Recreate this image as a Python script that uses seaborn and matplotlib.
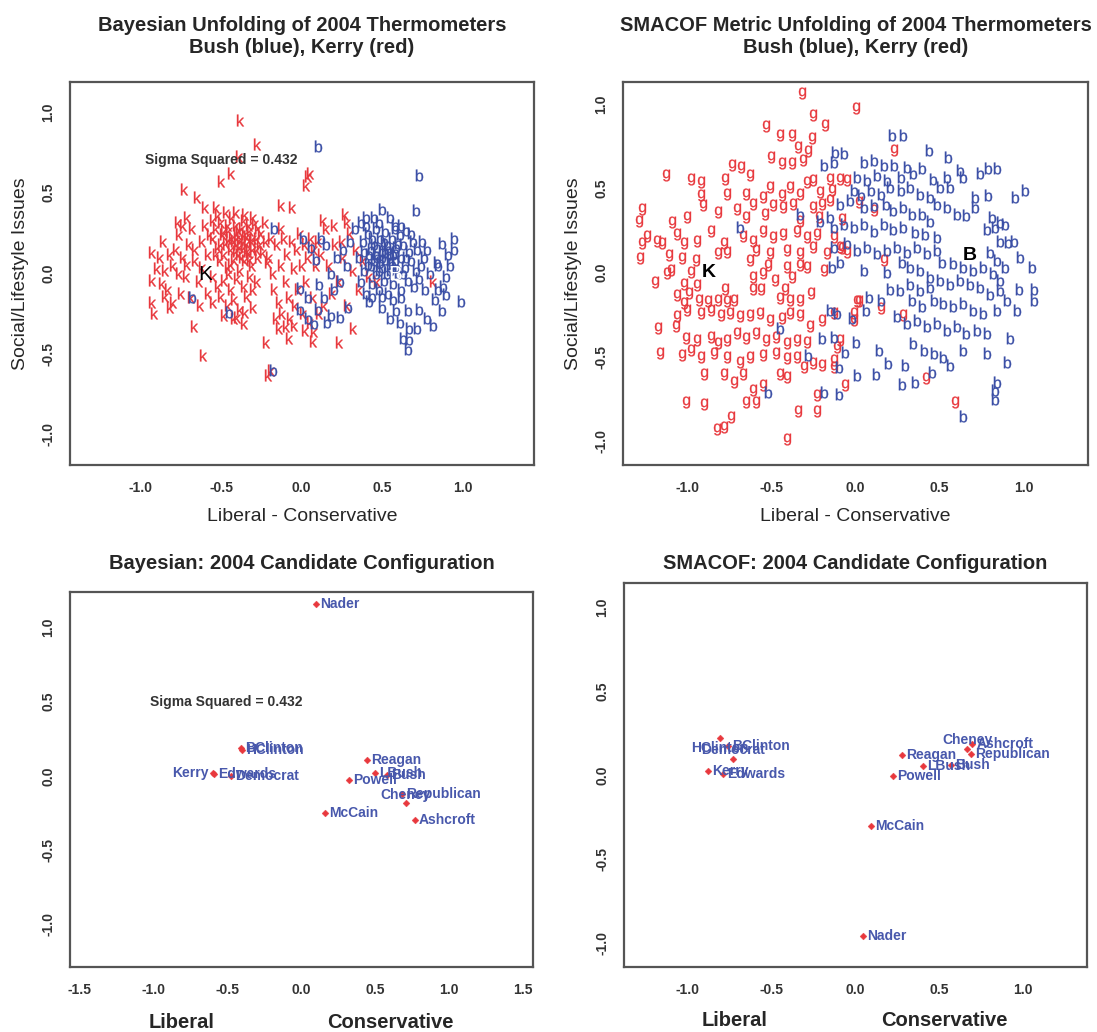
import numpy as np
import pandas as pd
import matplotlib
matplotlib.use("Agg")
import matplotlib.pyplot as plt
import matplotlib.transforms as mtransforms
import seaborn as sns

# ---------------- data ----------------
# Bayesian unfolding, respondent ideal points (Kerry voters "k", Bush voters "b")
kerry_bayes = [
    (-0.38, 0.95), (-0.28, 0.80), (-0.39, 0.73), (-0.44, 0.62), (-0.50, 0.57), (0.04, 0.60), (0.05, 0.62),
    (0.03, 0.55), (-0.73, 0.52), (-0.65, 0.47), (-0.60, 0.41), (-0.53, 0.41), (-0.06, 0.41), (-0.77, 0.32),
    (-0.71, 0.35), (-0.86, 0.20), (-0.93, 0.13), (-0.93, -0.04), (-0.93, -0.18), (-0.92, -0.25),
    (-0.82, -0.21), (-0.67, -0.33), (-0.61, -0.51), (-0.30, -0.21), (-0.22, -0.43), (-0.21, -0.63),
    (-0.19, -0.60), (-0.14, -0.34), (-0.08, -0.40), (-0.05, -0.32), (0.07, -0.42), (0.08, -0.36),
    (0.23, -0.43), (0.32, -0.34), (-0.36, -0.31), (-0.42, -0.28), (0.13, 0.33), (0.27, 0.37), (0.28, 0.32),
    (0.25, 0.20), (0.82, -0.05), (-0.13, 0.42),
    (-0.88, 0.10), (-0.85, 0.02), (-0.87, -0.06), (-0.83, -0.10), (-0.80, 0.05), (-0.78, 0.15),
    (-0.76, 0.24), (-0.74, 0.10), (-0.72, -0.02), (-0.75, -0.12), (-0.70, 0.18), (-0.68, 0.28),
    (-0.66, 0.08), (-0.64, -0.05), (-0.69, -0.15), (-0.62, 0.20), (-0.60, 0.30), (-0.58, 0.12),
    (-0.63, -0.20), (-0.58, -0.12), (-0.55, -0.18), (-0.80, -0.18), (-0.85, -0.14), (-0.90, 0.03),
    (-0.76, 0.00), (-0.71, 0.06), (-0.66, 0.15), (-0.62, 0.04), (-0.57, 0.24), (-0.55, 0.33),
    (-0.82, 0.12), (-0.74, 0.30),
    (-0.55, 0.22), (-0.53, 0.28), (-0.52, 0.16), (-0.51, 0.08), (-0.50, 0.32), (-0.49, 0.24), (-0.48, 0.12),
    (-0.47, 0.19), (-0.46, 0.04), (-0.45, 0.27), (-0.44, 0.15), (-0.43, 0.35), (-0.43, 0.22), (-0.42, 0.09),
    (-0.41, 0.30), (-0.40, 0.18), (-0.40, 0.25), (-0.39, 0.12), (-0.38, 0.21), (-0.38, 0.02), (-0.37, 0.28),
    (-0.36, 0.16), (-0.36, 0.33), (-0.35, 0.08), (-0.34, 0.23), (-0.34, 0.19), (-0.33, 0.13), (-0.32, 0.27),
    (-0.31, 0.20), (-0.31, 0.05), (-0.30, 0.15), (-0.29, 0.31), (-0.28, 0.22), (-0.27, 0.10), (-0.26, 0.18),
    (-0.25, 0.25), (-0.24, 0.13), (-0.23, 0.32), (-0.22, 0.20), (-0.21, 0.07), (-0.46, 0.30), (-0.44, 0.06),
    (-0.41, 0.14), (-0.39, 0.27), (-0.37, 0.10), (-0.35, 0.24), (-0.33, 0.30), (-0.32, 0.09), (-0.30, 0.22),
    (-0.28, 0.15), (-0.42, 0.20), (-0.38, 0.17), (-0.36, 0.20), (-0.34, 0.14), (-0.40, 0.22), (-0.45, 0.21),
    (-0.48, 0.26), (-0.50, 0.18), (-0.53, 0.12), (-0.27, 0.28), (-0.52, 0.36), (-0.47, 0.38), (-0.41, 0.38),
    (-0.35, 0.37), (-0.30, 0.35),
    (-0.55, -0.02), (-0.52, -0.08), (-0.50, -0.14), (-0.48, -0.04), (-0.46, -0.20), (-0.44, -0.10),
    (-0.42, -0.16), (-0.40, -0.03), (-0.38, -0.22), (-0.36, -0.08), (-0.34, -0.14), (-0.32, -0.02),
    (-0.30, -0.10), (-0.48, -0.26), (-0.40, -0.27), (-0.35, -0.24), (-0.45, 0.00), (-0.28, -0.05),
    (-0.20, 0.10), (-0.18, 0.00), (-0.17, -0.10), (-0.15, 0.18), (-0.14, -0.18), (-0.13, 0.05),
    (-0.12, -0.25), (-0.11, 0.22), (-0.10, -0.05), (-0.09, 0.12), (-0.08, -0.15), (-0.07, -0.28),
    (-0.06, 0.20), (-0.05, 0.03), (-0.04, -0.20), (-0.03, 0.15), (-0.02, -0.10), (-0.01, 0.25),
    (0.00, 0.05), (0.01, -0.25), (0.02, 0.18), (0.03, -0.05), (0.04, 0.10), (0.05, -0.30), (0.06, 0.22),
    (0.07, -0.15), (0.08, 0.15), (0.09, 0.05), (0.10, 0.20), (0.11, -0.25), (0.12, 0.12), (-0.16, -0.28),
    (-0.10, -0.33), (0.02, -0.35), (-0.19, 0.22), (-0.13, 0.28),
    (0.15, 0.28), (0.17, 0.05), (0.19, -0.12), (0.21, 0.18), (0.23, -0.05), (0.26, 0.10), (0.28, -0.20),
    (0.30, 0.25), (0.32, 0.02), (0.34, 0.15), (0.38, 0.08), (0.42, -0.02), (0.36, -0.10), (0.20, 0.30),
    (0.14, -0.20), (0.47, -0.05),
]

bush_bayes = [
    (0.10, 0.79), (0.73, 0.61), (0.50, 0.40), (0.71, 0.39), (-0.17, 0.28), (0.95, 0.22), (0.95, 0.15),
    (0.87, 0.19), (0.91, 0.12), (0.84, 0.07), (0.90, -0.02), (0.90, -0.13), (0.99, -0.17), (0.87, -0.23),
    (0.82, -0.32), (0.73, -0.22), (0.66, -0.23), (0.59, -0.23), (0.50, -0.21), (0.61, -0.30), (0.67, -0.34),
    (0.72, -0.34), (0.66, -0.47), (0.42, -0.17), (0.29, -0.21), (0.24, -0.27), (0.18, -0.26), (0.08, -0.31),
    (-0.01, -0.09), (0.11, -0.07), (-0.01, -0.22), (-0.45, -0.24), (-0.68, -0.15), (-0.18, -0.60),
    (0.01, 0.22), (0.15, 0.18), (0.09, 0.09),
    (0.85, 0.05), (0.80, 0.00), (0.88, -0.08), (0.77, -0.10), (0.83, -0.16), (0.75, 0.20), (0.78, 0.15),
    (0.68, 0.25), (0.62, 0.30), (0.58, 0.28), (0.45, 0.35), (0.40, 0.30), (0.37, 0.32), (0.33, 0.28),
    (0.30, 0.20), (0.26, 0.15), (0.22, 0.10), (0.18, 0.00), (0.14, -0.15), (0.20, -0.10), (0.24, -0.05),
    (0.28, 0.05), (0.12, 0.22), (0.06, 0.16), (0.04, -0.15), (0.10, -0.22), (0.16, -0.30), (0.04, -0.28),
    (0.55, -0.28), (0.63, -0.40), (0.67, -0.41), (0.78, -0.28), (0.85, -0.10), (0.92, 0.05),
    (0.36, 0.10), (0.37, -0.05), (0.38, 0.20), (0.39, 0.02), (0.40, -0.12), (0.41, 0.25), (0.42, 0.12),
    (0.43, 0.05), (0.44, -0.06), (0.45, 0.18), (0.46, 0.28), (0.46, 0.00), (0.47, 0.10), (0.48, -0.10),
    (0.49, 0.22), (0.50, 0.14), (0.50, 0.04), (0.51, -0.04), (0.52, 0.26), (0.52, 0.09), (0.53, 0.18),
    (0.54, -0.12), (0.55, 0.02), (0.55, 0.12), (0.56, 0.22), (0.57, -0.06), (0.58, 0.08), (0.58, 0.30),
    (0.59, 0.16), (0.60, 0.00), (0.61, 0.24), (0.62, 0.10), (0.62, -0.10), (0.63, 0.18), (0.64, 0.04),
    (0.65, 0.27), (0.66, -0.04), (0.67, 0.14), (0.68, 0.08), (0.69, 0.20), (0.70, -0.08), (0.71, 0.02),
    (0.72, 0.15), (0.44, 0.22), (0.47, 0.16), (0.49, 0.07), (0.51, 0.20), (0.53, 0.00), (0.54, 0.15),
    (0.56, 0.06), (0.57, 0.12), (0.59, 0.04), (0.60, 0.19), (0.48, 0.02), (0.46, 0.12), (0.52, 0.13),
    (0.55, 0.08), (0.50, 0.10), (0.58, 0.13), (0.45, 0.08), (0.43, 0.15), (0.41, 0.06), (0.39, 0.14),
    (0.63, 0.00), (0.65, 0.10), (0.40, 0.35), (0.48, 0.32), (0.55, 0.35), (0.62, -0.15), (0.57, -0.16),
    (0.50, -0.14), (0.44, -0.14), (0.74, 0.05), (0.76, 0.10), (0.73, -0.03),
]

# SMACOF metric unfolding, respondent points (Kerry voters "g", Bush voters "b")
kerry_smacof = [
    (-0.32, 1.07), (0.00, 0.98), (-0.25, 0.94), (-0.18, 0.88), (-0.53, 0.875), (-0.45, 0.82), (-0.38, 0.82),
    (-0.26, 0.80), (-0.345, 0.75), (-0.28, 0.725), (0.23, 0.73), (-0.50, 0.685), (-0.44, 0.65), (-0.38, 0.65),
    (-0.31, 0.67), (-0.735, 0.64), (-0.68, 0.63), (-0.63, 0.58), (-1.13, 0.58), (-0.98, 0.56), (-0.92, 0.54),
    (-0.775, 0.56), (-0.25, 0.55), (-0.15, 0.56), (-0.05, 0.55), (-0.29, 0.54), (-0.51, 0.51), (-0.39, 0.51),
    (-0.92, 0.46), (-0.765, 0.47), (-0.65, 0.47), (-0.55, 0.45), (-0.44, 0.46), (-0.33, 0.47), (-0.21, 0.48),
    (-0.14, 0.49), (-1.27, 0.38), (-1.29, 0.31), (-0.91, 0.40), (-0.82, 0.36), (-0.705, 0.38), (-0.61, 0.41),
    (-0.49, 0.40), (-0.43, 0.39), (-0.37, 0.41), (-0.25, 0.39), (-0.20, 0.41), (-0.15, 0.43), (-1.00, 0.33),
    (-1.09, 0.30), (-0.65, 0.33), (-0.54, 0.35), (-0.33, 0.31), (-0.22, 0.33), (-1.24, 0.22), (-1.27, 0.175),
    (-1.18, 0.19), (-1.15, 0.175), (-1.06, 0.23), (-1.02, 0.175), (-0.94, 0.19), (-0.86, 0.25), (-0.785, 0.175),
    (-1.28, 0.085), (-1.11, 0.105), (-1.03, 0.085), (-0.95, 0.075), (-0.82, 0.115), (-0.765, 0.125),
    (-0.67, 0.22), (-0.61, 0.19), (-0.55, 0.25), (-0.49, 0.21), (-0.43, 0.23), (-0.35, 0.25), (-0.29, 0.21),
    (-0.23, 0.23), (-0.13, 0.21), (-0.05, 0.125), (-0.09, 0.155), (-0.17, 0.115), (-0.25, 0.155),
    (-0.33, 0.115), (-0.41, 0.135), (-0.51, 0.115), (-0.59, 0.135), (-0.63, 0.075), (-0.52, 0.045),
    (-0.41, 0.035), (-0.33, 0.045), (-0.19, 0.015), (0.17, 0.075), (-1.10, 0.015), (-1.12, -0.005),
    (-1.19, -0.055), (-0.98, 0.005), (-1.02, -0.065), (-0.94, -0.075), (-0.61, -0.025), (-0.55, -0.005),
    (-0.48, -0.045), (-0.38, -0.025), (-0.29, 0.035), (-0.61, -0.095), (-0.775, -0.095), (-0.56, -0.095),
    (-0.42, -0.10), (-0.265, -0.12), (-1.06, -0.13), (-0.99, -0.12), (-1.02, -0.18), (-0.93, -0.16),
    (-0.88, -0.17), (-0.82, -0.16), (-0.765, -0.17), (-0.725, -0.16), (-0.45, -0.15), (-0.39, -0.16),
    (-0.33, -0.16), (0.02, -0.17), (0.15, -0.21), (-1.06, -0.26), (-1.00, -0.22), (-0.92, -0.24),
    (-0.86, -0.22), (-0.80, -0.25), (-0.745, -0.24), (-0.685, -0.26), (-0.63, -0.25), (-0.57, -0.24),
    (-0.51, -0.28), (-0.44, -0.27), (-0.39, -0.24), (-0.33, -0.25), (-0.27, -0.32), (-0.20, -0.28),
    (-0.13, -0.24), (-0.01, -0.24), (-1.175, -0.33), (-1.07, -0.32), (-1.01, -0.39), (-0.94, -0.40),
    (-0.86, -0.38), (-0.82, -0.42), (-0.765, -0.40), (-0.705, -0.36), (-0.65, -0.39), (-0.59, -0.36),
    (-0.53, -0.40), (-0.47, -0.38), (-0.41, -0.42), (-0.35, -0.40), (-0.29, -0.41), (-1.165, -0.48),
    (-1.03, -0.49), (-0.98, -0.46), (-0.92, -0.50), (-0.84, -0.48), (-0.765, -0.50), (-0.685, -0.53),
    (-0.63, -0.50), (-0.55, -0.49), (-0.47, -0.48), (-0.41, -0.51), (-0.35, -0.50), (-0.25, -0.54),
    (-0.20, -0.55), (-0.13, -0.56), (-0.11, -0.44), (-0.09, -0.40), (-0.90, -0.60), (-0.785, -0.60),
    (-0.725, -0.65), (-0.67, -0.60), (-0.61, -0.70), (-0.55, -0.67), (-0.45, -0.60), (-0.41, -0.62),
    (-0.305, -0.56), (0.01, -0.17), (-0.06, -0.67), (-0.23, -0.73), (-1.01, -0.77), (-0.90, -0.78),
    (-0.74, -0.86), (-0.825, -0.93), (-0.78, -0.92), (-0.65, -0.77), (-0.59, -0.77), (-0.34, -0.82),
    (-0.23, -0.82), (-0.41, -0.99), (0.42, -0.625), (0.59, -0.77), (0.28, -0.25), (0.02, 0.42), (0.11, 0.37),
    (-0.01, -0.28), (-0.13, -0.52), (-0.08, 0.32), (-0.08, 0.145), (-0.095, 0.56),
]

bush_smacof = [
    (0.215, 0.82), (0.285, 0.82), (-0.12, 0.72), (-0.07, 0.71), (0.44, 0.73), (0.55, 0.69), (-0.19, 0.64),
    (-0.13, 0.66), (0.05, 0.66), (0.11, 0.67), (0.17, 0.64), (0.23, 0.64), (0.305, 0.63), (0.395, 0.62),
    (0.62, 0.61), (0.64, 0.57), (0.74, 0.59), (0.79, 0.62), (0.84, 0.62), (0.95, 0.45), (1.01, 0.49),
    (0.01, 0.57), (0.07, 0.55), (0.13, 0.58), (0.19, 0.55), (0.27, 0.57), (0.345, 0.59), (0.46, 0.56),
    (0.545, 0.57), (0.505, 0.51), (0.56, 0.51), (0.71, 0.45), (0.79, 0.46), (-0.01, 0.49), (0.03, 0.46),
    (0.09, 0.49), (0.15, 0.47), (0.205, 0.51), (0.27, 0.49), (0.325, 0.51), (0.385, 0.47), (0.445, 0.45),
    (0.485, 0.41), (0.545, 0.39), (0.605, 0.35), (0.66, 0.34), (0.71, 0.39), (0.81, 0.33), (0.86, 0.30),
    (0.89, 0.29), (-0.09, 0.41), (-0.03, 0.43), (0.05, 0.39), (0.11, 0.40), (0.18, 0.41), (0.225, 0.37),
    (0.285, 0.39), (0.335, 0.35), (0.395, 0.35), (0.445, 0.31), (-0.33, 0.35), (-0.21, 0.31), (-0.15, 0.33),
    (-0.685, 0.27), (-0.13, 0.27), (-0.07, 0.29), (-0.01, 0.27), (0.05, 0.29), (0.11, 0.25), (0.17, 0.29),
    (0.225, 0.26), (0.285, 0.27), (0.355, 0.24), (0.415, 0.23), (0.485, 0.21), (0.78, 0.26), (0.83, 0.27),
    (0.86, 0.19), (0.91, 0.185), (0.94, 0.19), (0.98, 0.095), (1.05, 0.035), (0.80, 0.125), (0.84, 0.075),
    (0.89, 0.035), (-0.13, 0.155), (-0.05, 0.175), (0.01, 0.135), (0.07, 0.155), (0.13, 0.115),
    (0.19, 0.135), (0.245, 0.155), (0.305, 0.125), (0.365, 0.155), (0.425, 0.115), (0.485, 0.135),
    (-0.14, 0.035), (-0.09, 0.065), (0.05, 0.015), (0.19, 0.005), (0.275, 0.065), (0.325, 0.035),
    (0.385, 0.015), (0.445, -0.025), (0.515, 0.065), (0.58, 0.055), (0.64, 0.035), (0.70, 0.015),
    (0.76, 0.035), (0.82, -0.005), (0.86, -0.045), (0.97, -0.095), (1.06, -0.095), (1.06, -0.165),
    (0.205, -0.095), (0.265, -0.105), (0.325, -0.065), (0.385, -0.105), (0.445, -0.085), (0.505, -0.045),
    (0.56, -0.065), (0.62, -0.045), (0.68, -0.065), (0.74, -0.085), (0.80, -0.125), (0.86, -0.105),
    (0.90, -0.165), (0.96, -0.225), (0.08, -0.145), (0.15, -0.165), (0.335, -0.165), (0.395, -0.20),
    (0.465, -0.165), (0.52, -0.18), (0.58, -0.20), (0.64, -0.18), (0.70, -0.22), (0.76, -0.24), (0.84, -0.22),
    (-0.15, -0.22), (-0.11, -0.24), (0.06, -0.22), (-0.02, -0.27), (0.245, -0.26), (0.305, -0.30),
    (0.365, -0.28), (0.425, -0.32), (0.485, -0.30), (0.545, -0.34), (0.605, -0.32), (0.66, -0.36),
    (0.72, -0.34), (0.78, -0.36), (0.92, -0.39), (-0.45, -0.33), (-0.20, -0.39), (-0.13, -0.38),
    (0.00, -0.41), (0.14, -0.46), (0.345, -0.42), (0.405, -0.46), (0.465, -0.48), (0.52, -0.50),
    (0.56, -0.55), (0.64, -0.46), (0.78, -0.48), (0.90, -0.53), (-0.28, -0.49), (-0.06, -0.47),
    (-0.10, -0.56), (0.01, -0.61), (0.12, -0.60), (0.195, -0.54), (0.295, -0.55), (0.275, -0.66),
    (0.355, -0.65), (0.455, -0.59), (0.84, -0.65), (0.83, -0.70), (0.83, -0.75), (-0.19, -0.71),
    (-0.10, -0.72), (-0.52, -0.71), (0.64, -0.85),
]

# group centroids
bayes_centroids = {"K": (-0.60, -0.01), "B": (0.585, -0.01)}
smacof_centroids = {"K": (-0.874, 0.0), "B": (0.68, 0.105)}

# candidate configurations
candidates = ["Nader", "BClinton", "HClinton", "Kerry", "Edwards", "Democrat", "Reagan", "LBush", "Bush",
              "Powell", "Cheney", "Republican", "McCain", "Ashcroft"]
bayes_x = [0.095, -0.41, -0.40, -0.60, -0.59, -0.48, 0.44, 0.50, 0.58, 0.32, 0.705, 0.68, 0.16, 0.765]
bayes_y = [1.16, 0.19, 0.175, 0.02, 0.01, 0.0, 0.105, 0.02, 0.005, -0.03, -0.184, -0.12, -0.25, -0.30]
smacof_x = [0.044, -0.76, -0.81, -0.88, -0.79, -0.73, 0.276, 0.40, 0.57, 0.224, 0.667, 0.69, 0.093, 0.695]
smacof_y = [-0.957, 0.175, 0.22, 0.026, 0.006, 0.10, 0.12, 0.056, 0.06, -0.004, 0.16, 0.125, -0.30, 0.185]

sigma_sq = 0.432

# where each candidate label sits relative to its point (R text pos)
bayes_side = {"Kerry": "left", "Cheney": "above"}
smacof_side = {"HClinton": "below", "Democrat": "above", "Cheney": "above"}

# ---------------- style ----------------
sns.set_style("white")
plt.rcParams["font.family"] = ["Liberation Sans", "DejaVu Sans"]
plt.rcParams["mathtext.fontset"] = "custom"
plt.rcParams["mathtext.rm"] = "Liberation Sans"

RED = "#e8383d"
BLUE = "#3b4fa6"
LABEL_BLUE = "#4858ac"
FRAME = "#555555"

W, H = 1097, 1032
fig = plt.figure(figsize=(W / 100, H / 100), dpi=100)


def make_axes(x0, x1, y0, y1):
    return fig.add_axes([x0 / W, 1 - y1 / H, (x1 - x0) / W, (y1 - y0) / H])


def frame(ax, xlim, ylim, ticks_x, ticks_y):
    ax.set_xlim(xlim)
    ax.set_ylim(ylim)
    ax.set_xticks(ticks_x)
    ax.set_yticks(ticks_y)
    ax.set_xticklabels([f"{t:.1f}" for t in ticks_x], fontweight="bold")
    ax.set_yticklabels([f"{t:.1f}" for t in ticks_y], fontweight="bold", rotation=90, va="center")
    for s in ax.spines.values():
        s.set_color(FRAME)
        s.set_linewidth(1.6)
    ax.tick_params(direction="out", length=5.5, width=1.2, color=FRAME, labelsize=10,
                   labelcolor="#333333", pad=6)
    ax.tick_params(axis="y", pad=5)
    ax.set_xlabel("")
    ax.set_ylabel("")
    ax.grid(False)


def letters(ax, pts, letter, color):
    df = pd.DataFrame(pts, columns=["x", "y"])
    sns.scatterplot(data=df, x="x", y="y", marker=r"$\mathrm{" + letter + "}$", s=72, color=color,
                    edgecolor=color, linewidth=0.2, ax=ax, zorder=3)


def candidates_plot(ax, xs, ys, sides):
    df = pd.DataFrame({"name": candidates, "x": xs, "y": ys})
    sns.scatterplot(data=df, x="x", y="y", marker="D", s=12, color=RED, edgecolor=RED, linewidth=0.3,
                    ax=ax, zorder=4)
    for name, x, y in zip(df["name"], df["x"], df["y"]):
        side = sides.get(name, "right")
        if side == "right":
            off, ha = (3, 0), "left"
        elif side == "left":
            off, ha = (-3, 0), "right"
        elif side == "above":
            off, ha = (0, 6), "center"
        else:
            off, ha = (0, -7), "center"
        ax.annotate(name, (x, y), xytext=off, textcoords="offset points", ha=ha, va="center",
                    fontsize=10, fontweight="bold", color=LABEL_BLUE, zorder=5)


ticks1 = [-1.0, -0.5, 0.0, 0.5, 1.0]
ticks15 = [-1.5, -1.0, -0.5, 0.0, 0.5, 1.0, 1.5]

# ---- top left: Bayesian unfolding ----
ax1 = make_axes(70, 534, 82, 465)
letters(ax1, kerry_bayes, "k", RED)
letters(ax1, bush_bayes, "b", BLUE)
ax1.text(*bayes_centroids["K"], "K", fontsize=15, color="black", ha="center", va="center", zorder=6)
ax1.text(*bayes_centroids["B"], "B", fontsize=15, color="white", ha="center", va="center", zorder=6)
ax1.text(-0.50, 0.70, f"Sigma Squared = {sigma_sq}", fontsize=10, fontweight="bold", color="#333333",
         ha="center", va="center", zorder=6)
frame(ax1, (-1.44, 1.445), (-1.19, 1.186), ticks1, ticks1)
ax1.set_title("Bayesian Unfolding of 2004 Thermometers\nBush (blue), Kerry (red)", fontsize=14.5,
              fontweight="bold", y=(465 - 53) / 383, pad=0)
ax1.set_xlabel("Liberal - Conservative", fontsize=14)
ax1.xaxis.set_label_coords(0.5, (465 - 508) / 383)
ax1.set_ylabel("Social/Lifestyle Issues", fontsize=14)
ax1.yaxis.set_label_coords((29 - 70) / 464, 0.5)

# ---- top right: SMACOF unfolding ----
ax2 = make_axes(623, 1088, 82, 465)
letters(ax2, kerry_smacof, "g", RED)
letters(ax2, bush_smacof, "b", BLUE)
ax2.text(*smacof_centroids["K"], "K", fontsize=14, fontweight="bold", color="black", ha="center",
         va="center", zorder=6)
ax2.text(*smacof_centroids["B"], "B", fontsize=14, fontweight="bold", color="black", ha="center",
         va="center", zorder=6)
frame(ax2, (-1.383, 1.383), (-1.144, 1.134), ticks1, ticks1)
ax2.set_title("SMACOF Metric Unfolding of 2004 Thermometers\nBush (blue), Kerry (red)", fontsize=14.5,
              fontweight="bold", y=(465 - 53) / 383, pad=0)
ax2.set_xlabel("Liberal - Conservative", fontsize=14)
ax2.xaxis.set_label_coords(0.5, (465 - 508) / 383)
ax2.set_ylabel("Social/Lifestyle Issues", fontsize=14)
ax2.yaxis.set_label_coords((582 - 623) / 465, 0.5)

# ---- bottom left: Bayesian candidates ----
ax3 = make_axes(70, 533, 592, 967)
candidates_plot(ax3, bayes_x, bayes_y, bayes_side)
ax3.text(-0.51, 0.50, f"Sigma Squared = {sigma_sq}", fontsize=10, fontweight="bold", color="#333333",
         ha="center", va="center")
frame(ax3, (-1.566, 1.566), (-1.29, 1.24), ticks15, ticks1)
ax3.set_title("Bayesian: 2004 Candidate Configuration", fontsize=14.5, fontweight="bold",
              y=1 + (592 - 569) / 375, pad=0)
tr3 = mtransforms.blended_transform_factory(ax3.transData, ax3.transAxes)
ax3.text(-0.81, (967 - 1022) / 375, "Liberal", transform=tr3, fontsize=14.5, fontweight="bold",
         ha="center", va="center")
ax3.text(0.60, (967 - 1022) / 375, "Conservative", transform=tr3, fontsize=14.5, fontweight="bold",
         ha="center", va="center")

# ---- bottom right: SMACOF candidates ----
ax4 = make_axes(624, 1087, 583, 967)
candidates_plot(ax4, smacof_x, smacof_y, smacof_side)
frame(ax4, (-1.38, 1.38), (-1.14, 1.145), ticks1, ticks1)
ax4.set_title("SMACOF: 2004 Candidate Configuration", fontsize=14.5, fontweight="bold",
              y=1 + (583 - 569) / 384, pad=0)
tr4 = mtransforms.blended_transform_factory(ax4.transData, ax4.transAxes)
ax4.text(-0.72, (967 - 1020) / 384, "Liberal", transform=tr4, fontsize=14.5, fontweight="bold",
         ha="center", va="center")
ax4.text(0.53, (967 - 1020) / 384, "Conservative", transform=tr4, fontsize=14.5, fontweight="bold",
         ha="center", va="center")

fig.savefig("out.png", dpi=100)
